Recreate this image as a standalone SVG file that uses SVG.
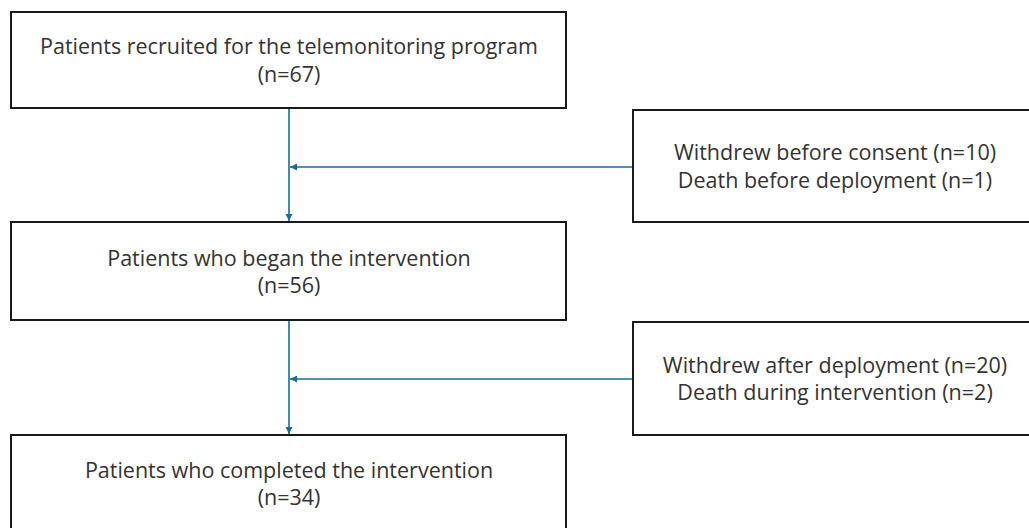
<svg xmlns="http://www.w3.org/2000/svg" width="1029" height="528" viewBox="0 0 1029 528">
<style>
.box{fill:#fff;stroke:#1a1a1a;stroke-width:2}
.t{font-family:"Open Sans","Liberation Sans",sans-serif;font-size:21.5px;fill:#333;text-anchor:middle}
.c{stroke:#1f6a93;stroke-width:1.6;fill:none}
</style>
<defs>
<marker id="ah" viewBox="0 0 10 10" refX="10" refY="5" markerWidth="7" markerHeight="7" orient="auto" markerUnits="userSpaceOnUse">
<path d="M0,0 L10,5 L0,10 z" fill="#1f6a93"/>
</marker>
</defs>
<rect width="1029" height="528" fill="#fff"/>
<g id="connectors">
<line class="c" x1="289" y1="109" x2="289" y2="221" marker-end="url(#ah)"/>
<line class="c" x1="633" y1="167" x2="290" y2="167" marker-end="url(#ah)"/>
<line class="c" x1="289" y1="320" x2="289" y2="434" marker-end="url(#ah)"/>
<line class="c" x1="633" y1="379" x2="290" y2="379" marker-end="url(#ah)"/>
</g>
<g id="n1">
<rect class="box" x="11" y="12" width="555" height="96"/>
<text class="t" x="289" y="54">Patients recruited for the telemonitoring program</text>
<text class="t" x="289" y="82">(n=67)</text>
</g>
<g id="n2">
<rect class="box" x="633" y="110" width="404" height="112"/>
<text class="t" x="835" y="160">Withdrew before consent (n=10)</text>
<text class="t" x="835" y="188">Death before deployment (n=1)</text>
</g>
<g id="n3">
<rect class="box" x="11" y="222" width="555" height="98"/>
<text class="t" x="289" y="266">Patients who began the intervention</text>
<text class="t" x="289" y="293">(n=56)</text>
</g>
<g id="n4">
<rect class="box" x="633" y="322" width="404" height="113"/>
<text class="t" x="835" y="373">Withdrew after deployment (n=20)</text>
<text class="t" x="835" y="400">Death during intervention (n=2)</text>
</g>
<g id="n5">
<rect class="box" x="11" y="435" width="555" height="100"/>
<text class="t" x="289" y="478">Patients who completed the intervention</text>
<text class="t" x="289" y="505">(n=34)</text>
</g>
</svg>
